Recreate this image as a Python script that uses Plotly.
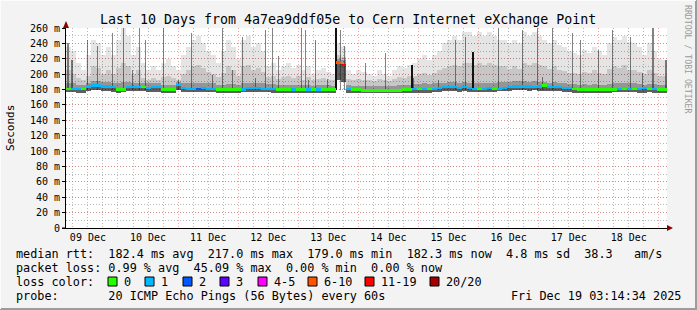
import plotly.graph_objects as go
import pandas as pd

# ---------------- data ----------------
START = "2025-12-09 03:14:34"
END = "2025-12-19 03:14:34"
STEP_HOURS = 2  # one smoke column per 2 hours

# top of the lightest smoke (ms)
smoke_hi = [235, 230, 215, 205, 225, 245, 240, 225, 235, 225,
            245, 260, 250, 225, 235, 215, 205, 210, 205, 215,
            220, 210, 205, 225, 235, 245, 250, 240, 230, 225,
            215, 230, 245, 235, 220, 245, 250, 235, 240, 230,
            210, 215, 205, 210, 215, 208, 212, 205, 210, 200,
            205, 208, 203, 200, 240, 235, 205, 200, 205, 203,
            200, 198, 205, 200, 198, 205, 210, 208, 212, 215,
            220, 225, 218, 225, 230, 240, 245, 250, 245, 255,
            255, 250, 255, 250, 255, 250, 245, 245, 240, 245,
            240, 255, 250, 255, 250, 245, 240, 245, 238, 235,
            230, 228, 225, 232, 228, 235, 230, 225, 240, 248,
            245, 250, 242, 240, 235, 225, 240, 230, 220, 218]
# top of the medium smoke (ms)
smoke_mid = [205, 200, 195, 192, 198, 210, 208, 200, 205, 200,
             208, 215, 210, 200, 205, 195, 192, 195, 192, 196,
             198, 195, 193, 200, 205, 210, 212, 208, 203, 200,
             196, 202, 210, 205, 198, 210, 212, 205, 208, 203,
             196, 198, 194, 196, 198, 195, 197, 193, 196, 192,
             194, 195, 193, 192, 225, 222, 194, 192, 194, 193,
             192, 191, 194, 192, 191, 194, 196, 195, 197, 198,
             200, 202, 199, 202, 205, 208, 210, 212, 210, 215,
             215, 212, 215, 212, 215, 212, 210, 210, 207, 210,
             207, 215, 212, 215, 212, 210, 207, 210, 205, 204,
             202, 201, 200, 203, 201, 205, 202, 200, 207, 210,
             208, 212, 206, 205, 203, 200, 206, 202, 198, 197]
# top of the dark smoke (ms)
smoke_dk = [188, 188, 186, 186, 189, 191, 191, 190, 190, 189,
            188, 190, 190, 189, 189, 188, 188, 188, 188, 186,
            186, 186, 190, 188, 188, 189, 189, 188, 188, 188,
            186, 186, 187, 187, 186, 188, 189, 188, 189, 188,
            187, 187, 186, 186, 186, 186, 186, 186, 186, 185,
            186, 186, 186, 185, 220, 218, 186, 185, 185, 185,
            185, 185, 185, 185, 185, 185, 186, 186, 186, 187,
            187, 188, 187, 188, 189, 189, 190, 190, 189, 190,
            189, 188, 189, 188, 189, 189, 190, 190, 190, 191,
            191, 191, 190, 191, 190, 190, 189, 190, 189, 188,
            187, 187, 186, 187, 186, 187, 186, 186, 187, 188,
            188, 189, 188, 188, 187, 186, 187, 187, 186, 186]
# bottom of the smoke (ms)
smoke_lo = [177, 177, 176, 176, 178, 179, 179, 178, 178, 177,
            176, 177, 178, 178, 178, 178, 177, 177, 177, 176,
            176, 176, 179, 177, 177, 177, 177, 177, 177, 177,
            176, 176, 176, 176, 176, 177, 177, 177, 177, 177,
            177, 176, 176, 176, 176, 176, 176, 176, 176, 176,
            176, 176, 176, 176, 192, 190, 176, 175, 175, 175,
            175, 175, 175, 175, 175, 175, 175, 176, 176, 176,
            176, 176, 176, 177, 177, 178, 178, 178, 177, 178,
            177, 177, 177, 177, 177, 177, 178, 178, 178, 179,
            179, 179, 178, 179, 178, 178, 178, 178, 178, 177,
            177, 176, 176, 176, 176, 176, 176, 176, 176, 177,
            177, 177, 177, 177, 176, 176, 177, 176, 176, 176]
# median rtt (ms)
median_rtt = [181, 181, 181, 181, 184, 185, 185, 184, 184, 183,
              180, 180, 183, 183, 183, 183, 182, 183, 183, 180,
              180, 180, 186, 182, 181, 181, 181, 182, 181, 181,
              180, 180, 180, 180, 180, 180, 182, 182, 182, 181,
              181, 181, 180, 180, 180, 180, 180, 180, 180, 180,
              180, 180, 180, 180, 215, 212, 181, 180, 180, 179,
              179, 179, 179, 179, 179, 179, 179, 180, 180, 181,
              181, 181, 181, 181, 182, 183, 183, 183, 182, 183,
              182, 181, 181, 181, 182, 181, 181, 182, 183, 184,
              184, 184, 184, 183, 184, 185, 183, 183, 183, 182,
              182, 181, 180, 180, 180, 180, 180, 180, 180, 180,
              181, 181, 181, 181, 181, 182, 181, 181, 180, 180]
# loss class per column (index into loss_labels)
loss_class = [0, 1, 1, 0, 1, 1, 1, 1, 1, 1,
              0, 0, 1, 1, 1, 0, 1, 1, 1, 0,
              0, 0, 1, 1, 1, 1, 2, 1, 1, 1,
              0, 0, 0, 0, 0, 1, 1, 1, 1, 1,
              1, 1, 0, 0, 0, 1, 0, 0, 1, 0,
              1, 0, 0, 0, 5, 6, 1, 0, 0, 0,
              0, 0, 0, 0, 0, 0, 0, 0, 0, 1,
              0, 1, 0, 1, 1, 1, 1, 1, 1, 1,
              1, 1, 0, 1, 1, 0, 1, 1, 1, 1,
              1, 1, 1, 1, 1, 0, 1, 1, 1, 1,
              1, 0, 0, 0, 0, 0, 0, 0, 0, 0,
              1, 0, 1, 0, 1, 1, 0, 1, 0, 0]

# thin dark spikes: hours after start, top value (ms)
spike_hours = [0.8, 2.4, 8.4, 12.4, 18.4, 22.8, 26.4, 29.2, 31.6, 38.8,
               44.8, 50.0, 58.4, 62.4, 66.4, 70.4, 75.6, 79.6, 82.4, 84.8,
               94.0, 95.6, 96.8, 99.6, 104.4, 109.6, 111.2, 119.6, 127.6, 138.8,
               148.8, 155.6, 159.6, 172.8, 182.4, 188.4, 190.4, 194.4, 202.4, 205.6,
               212.8, 218.4, 225.6, 230.4, 234.4, 239.6]
spike_top = [240, 218, 244, 236, 253, 260, 205, 260, 244, 260,
             192, 253, 199, 260, 205, 248, 195, 257, 260, 223,
             260, 257, 192, 244, 194, 257, 236, 214, 227, 195,
             192, 244, 248, 260, 257, 260, 196, 260, 253, 244,
             231, 257, 248, 201, 260, 218]
# heavy black bars
black_hours = [108.0, 138.0, 162.4]
black_top = [260, 212, 229]

loss_labels = ["0", "1", "2", "3", "4-5", "6-10", "11-19", "20/20"]
loss_colors = ["#26ff00", "#00b8ff", "#0059ff", "#5e00ff",
               "#ff00ff", "#ff5500", "#ff0000", "#a00000"]

y_tickvals = [0, 20, 40, 60, 80, 100, 120, 140, 160, 180, 200, 220, 240, 260]
y_ticktext = ["0", "20 m", "40 m", "60 m", "80 m", "100 m", "120 m", "140 m",
              "160 m", "180 m", "200 m", "220 m", "240 m", "260 m"]

title_text = "Last 10 Days from 4a7ea9ddf05e to Cern Internet eXchange Point"
line_rtt = "median rtt:  182.4 ms avg  217.0 ms max  179.0 ms min  182.3 ms now  4.8 ms sd  38.3   am/s"
line_loss = "packet loss: 0.99 % avg  45.09 % max  0.00 % min  0.00 % now"
line_color = "loss color:"
line_probe = "probe:       20 ICMP Echo Pings (56 Bytes) every 60s"
stamp = "Fri Dec 19 03:14:34 2025"

# ---------------- figure ----------------
W_PX, H_PX = 697, 310
L, R, T, B = 66, 667, 28, 228
PW, PH = R - L, B - T
MONO = "DejaVu Sans Mono"
MAJOR_GRID = "rgba(225,100,100,0.55)"
MINOR_GRID = "rgba(140,140,140,0.6)"
DOTS = "1px,2px"


def fx(px):
    return (px - L) / PW


def fy(py):
    return (B - py) / PH


def nb(s):
    return s.replace(" ", "\u00a0")


t0 = pd.Timestamp(START)
n = len(median_rtt)
col_x = [t0 + pd.Timedelta(hours=STEP_HOURS * i + STEP_HOURS / 2) for i in range(n)]
col_w = STEP_HOURS * 3600 * 1000

fig = go.Figure()


def band(top, bottom, color):
    fig.add_trace(go.Bar(x=col_x, y=[a - b for a, b in zip(top, bottom)], base=bottom,
                         width=col_w, marker=dict(color=color, line=dict(width=0)),
                         hoverinfo="skip", showlegend=False))


band(smoke_hi, smoke_lo, "rgba(0,0,0,0.10)")
band(smoke_mid, smoke_lo, "rgba(0,0,0,0.13)")
band(smoke_dk, smoke_lo, "rgba(0,0,0,0.25)")
band([m + 1 for m in median_rtt], smoke_lo, "rgba(0,0,0,0.36)")

sx = [t0 + pd.Timedelta(hours=h) for h in spike_hours]
fig.add_trace(go.Bar(x=sx, y=[v - 180 for v in spike_top], base=180, width=0.42 * 3600 * 1000,
                     marker=dict(color="rgba(30,30,30,0.55)", line=dict(width=0)),
                     hoverinfo="skip", showlegend=False))
bx = [t0 + pd.Timedelta(hours=h) for h in black_hours]
fig.add_trace(go.Bar(x=bx, y=[v - 179 for v in black_top], base=179, width=0.8 * 3600 * 1000,
                     marker=dict(color="#111111", line=dict(width=0)),
                     hoverinfo="skip", showlegend=False))

# median line coloured by loss
fig.add_trace(go.Bar(x=col_x, y=[3.2] * n, base=[m - 1.6 for m in median_rtt],
                     width=col_w,
                     marker=dict(color=[loss_colors[c] for c in loss_class], line=dict(width=0)),
                     hoverinfo="skip", showlegend=False))

fig.update_layout(
    width=W_PX, height=H_PX,
    margin=dict(l=L, r=W_PX - R, t=T, b=H_PX - B, pad=0),
    paper_bgcolor="#f3f3f3", plot_bgcolor="#ffffff",
    barmode="overlay", bargap=0,
    showlegend=False,
    font=dict(family=MONO, size=10, color="#000000"),
)
fig.update_xaxes(
    type="date", range=[START, END],
    dtick=86400000, tick0="2025-12-09 00:00:00",
    ticklabelmode="period", tickformat="%d %b",
    showgrid=True, gridcolor=MAJOR_GRID, griddash=DOTS, gridwidth=1,
    minor=dict(dtick=6 * 3600000, tick0="2025-12-09 00:00:00", showgrid=True,
               gridcolor=MINOR_GRID, griddash=DOTS, gridwidth=1),
    showline=True, linecolor="#000000", linewidth=1, ticks="",
    tickfont=dict(family=MONO, size=10), zeroline=False, fixedrange=True,
)
fig.update_yaxes(
    range=[0, 260], tickvals=y_tickvals, ticktext=y_ticktext,
    showgrid=True, gridcolor=MAJOR_GRID, griddash=DOTS, gridwidth=1,
    minor=dict(dtick=10, showgrid=True, gridcolor=MINOR_GRID, griddash=DOTS, gridwidth=1),
    showline=True, linecolor="#000000", linewidth=1,
    ticks="outside", ticklen=3, tickcolor="#000000",
    tickfont=dict(family=MONO, size=10), zeroline=False, fixedrange=True,
)

shapes = []
# axis arrows
ar = "#8b0000"
shapes.append(dict(type="path", xref="paper", yref="paper", layer="above",
                   path=f"M {fx(667)} {fy(225)} L {fx(673)} {fy(228)} L {fx(667)} {fy(231)} Z",
                   fillcolor=ar, line=dict(color=ar, width=0)))
shapes.append(dict(type="path", xref="paper", yref="paper", layer="above",
                   path=f"M {fx(63)} {fy(28)} L {fx(66)} {fy(21)} L {fx(69)} {fy(28)} Z",
                   fillcolor=ar, line=dict(color=ar, width=0)))
shapes.append(dict(type="line", xref="paper", yref="paper", layer="above",
                   x0=fx(62), x1=fx(66), y0=0, y1=0, line=dict(color="#000", width=1)))
# frame of the image
shapes.append(dict(type="line", xref="paper", yref="paper", x0=fx(0), x1=fx(697), y0=fy(309), y1=fy(309),
                   line=dict(color="#9c9c9c", width=2)))
shapes.append(dict(type="line", xref="paper", yref="paper", x0=fx(696), x1=fx(696), y0=fy(0), y1=fy(310),
                   line=dict(color="#9c9c9c", width=2)))
shapes.append(dict(type="line", xref="paper", yref="paper", x0=fx(0), x1=fx(696), y0=fy(0.5), y1=fy(0.5),
                   line=dict(color="#fcfcfc", width=1)))
shapes.append(dict(type="line", xref="paper", yref="paper", x0=fx(0.5), x1=fx(0.5), y0=fy(0), y1=fy(309),
                   line=dict(color="#fcfcfc", width=1)))

annos = []
LEG = 11.8


def text(px, py, s, size=LEG, anchor="left", color="#000000", angle=0):
    annos.append(dict(x=fx(px), y=fy(py), xref="paper", yref="paper", text=nb(s),
                      showarrow=False, xanchor=anchor, yanchor="middle", textangle=angle,
                      font=dict(family=MONO, size=size, color=color), borderpad=0, borderwidth=0))


text(348, 19, title_text, size=13.3, anchor="center")
text(10, 128, "Seconds", size=11, anchor="center", angle=-90)
text(688, 59, "RRDTOOL / TOBI OETIKER", size=8.2, anchor="center", color="#9a9a9a", angle=90)
text(16, 254, line_rtt)
text(16, 268, line_loss)
text(16, 282, line_color)
text(16, 296, line_probe)
text(681, 296, stamp, anchor="right")

box_left = [108, 145, 183, 220, 258, 308, 365, 430]
for bl, lab, col in zip(box_left, loss_labels, loss_colors):
    shapes.append(dict(type="rect", xref="paper", yref="paper",
                       x0=fx(bl), x1=fx(bl + 9), y0=fy(286), y1=fy(277),
                       fillcolor=col, line=dict(color="#000000", width=1)))
    text(bl + 16, 282, lab)

fig.update_layout(shapes=shapes, annotations=annos)
fig.write_html("out.html")
